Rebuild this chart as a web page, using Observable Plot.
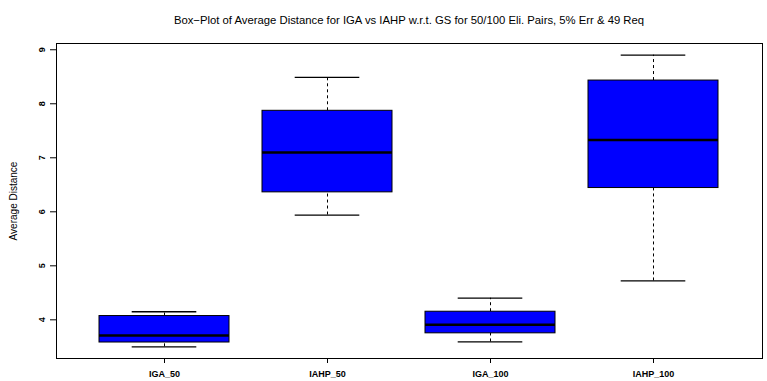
<!DOCTYPE html>
<html>
<head>
<meta charset="utf-8">
<script src="https://cdn.jsdelivr.net/npm/d3@7"></script>
<script src="https://cdn.jsdelivr.net/npm/@observablehq/plot@0.6"></script>
<style>
  html, body { margin: 0; padding: 0; background: #fff; }
  #chart { width: 767px; font-family: "Liberation Sans", Arial, sans-serif; }
  #title {
    height: 30px; box-sizing: border-box;
    padding-left: 56px; width: 762px; padding-top: 14px;
    text-align: center; font-size: 11.3px; line-height: 12px; color: #000;
  }
</style>
</head>
<body>
<div id="chart">
  <div id="title">Box−Plot of Average Distance for IGA vs IAHP w.r.t. GS for 50/100 Eli. Pairs, 5% Err &amp; 49 Req</div>
</div>
<script>
// Five-number summaries for each algorithm / pair-count combination
const groups   = ["IGA_50", "IAHP_50", "IGA_100", "IAHP_100"];
const whiskLow = [3.50, 5.94, 3.59, 4.72];
const q1       = [3.58, 6.36, 3.75, 6.44];
const median   = [3.71, 7.10, 3.91, 7.33];
const q3       = [4.07, 7.87, 4.15, 8.43];
const whiskHi  = [4.15, 8.49, 4.40, 8.90];
const yTicks   = [4, 5, 6, 7, 8, 9];
const yLabel   = "Average Distance";

const stats = groups.map((g, i) => ({
  group: g, lo: whiskLow[i], q1: q1[i], med: median[i], q3: q3[i], hi: whiskHi[i]
}));

// y range padded by 4% of the data span on each side
const yMin = d3.min(whiskLow), yMax = d3.max(whiskHi);
const pad = (yMax - yMin) * 0.04;

const plot = Plot.plot({
  width: 767,
  height: 351,
  marginLeft: 56,
  marginRight: 5,
  marginTop: 13,
  marginBottom: 23,
  style: { fontFamily: "Liberation Sans, Arial, sans-serif", background: "#fff", color: "#000" },
  x: { domain: groups, paddingInner: 0.2, paddingOuter: 0.26, label: null },
  y: { domain: [yMin - pad, yMax + pad], label: null },
  marks: [
    // dashed whiskers
    Plot.ruleX(stats, { x: "group", y1: "q3", y2: "hi", stroke: "#000", strokeWidth: 1, strokeDasharray: "3,3" }),
    Plot.ruleX(stats, { x: "group", y1: "lo", y2: "q1", stroke: "#000", strokeWidth: 1, strokeDasharray: "3,3" }),
    // whisker caps
    Plot.tickY(stats, { x: "group", y: "hi", stroke: "#000", strokeWidth: 1.3, insetLeft: 32.7, insetRight: 32.7 }),
    Plot.tickY(stats, { x: "group", y: "lo", stroke: "#000", strokeWidth: 1.3, insetLeft: 32.7, insetRight: 32.7 }),
    // boxes
    Plot.barY(stats, { x: "group", y1: "q1", y2: "q3", fill: "#0000ff", stroke: "#000", strokeWidth: 1 }),
    // medians
    Plot.tickY(stats, { x: "group", y: "med", stroke: "#000", strokeWidth: 2.5 }),
    Plot.frame({ stroke: "#000", strokeWidth: 1 }),
    Plot.axisY(yTicks, {
      tickSize: 6, tickPadding: 6, tickRotate: -90, tickFormat: "d",
      fontSize: 9, fontWeight: "bold", label: null
    }),
    Plot.axisX({ tickSize: 5, tickPadding: 7, fontSize: 9, fontWeight: "bold", label: null }),
    Plot.text([yLabel], {
      text: d => d, frameAnchor: "left", textAnchor: "middle", dx: -43, rotate: -90, fontSize: 10, fill: "#000"
    })
  ]
});

document.getElementById("chart").appendChild(plot);
</script>
</body>
</html>
